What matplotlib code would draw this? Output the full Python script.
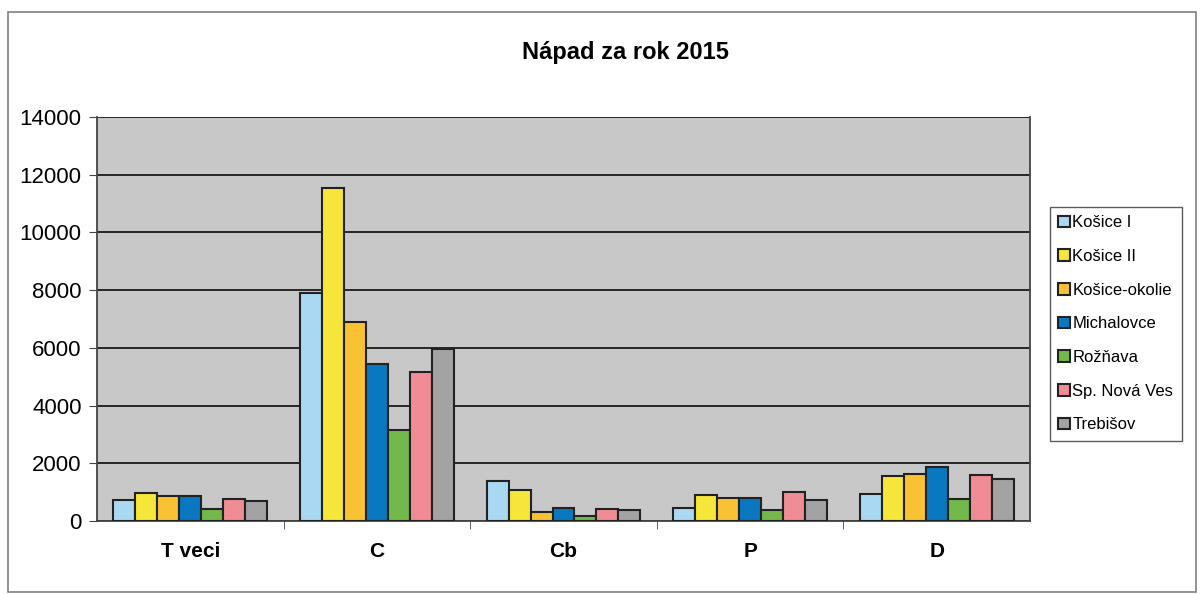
import matplotlib
matplotlib.use('Agg')
import matplotlib.pyplot as plt
import numpy as np
from matplotlib.patches import Rectangle

matplotlib.rcParams['font.family'] = ['Liberation Sans', 'DejaVu Sans']

categories = ['T veci', 'C', 'Cb', 'P', 'D']
series = ['Košice I', 'Košice II', 'Košice-okolie', 'Michalovce', 'Rožňava',
          'Sp. Nová Ves', 'Trebišov']
kosice_1 = [740, 7900, 1380, 450, 950]
kosice_2 = [980, 11550, 1080, 900, 1550]
kosice_okolie = [850, 6900, 320, 780, 1640]
michalovce = [870, 5450, 450, 800, 1860]
roznava = [420, 3150, 170, 380, 760]
sp_nova_ves = [750, 5150, 430, 990, 1600]
trebisov = [700, 5950, 390, 720, 1450]
values = [kosice_1, kosice_2, kosice_okolie, michalovce, roznava, sp_nova_ves, trebisov]
colors = ['#a9d9f2', '#f7e63a', '#f8c234', '#0a78c0', '#72b84a', '#f08c94', '#a3a3a3']

fig = plt.figure(figsize=(12.04, 5.95), dpi=100)
# outer chart frame
fig.patches.append(Rectangle((8 / 1204, 3 / 595), 1188 / 1204, 580 / 595, transform=fig.transFigure,
                             fill=False, edgecolor='#808080', linewidth=1.2))

ax = fig.add_axes([97 / 1204, 74 / 595, 933 / 1204, 404 / 595])
ax.set_facecolor('#c8c8c8')

x = np.arange(len(categories))
width = 1 / 8.5
for i, (name, vals, c) in enumerate(zip(series, values, colors)):
    ax.bar(x + (i - 3) * width, vals, width, color=c, edgecolor='#222222', linewidth=1.5,
           label=name, zorder=3)

ax.set_ylim(0, 14000)
ax.set_yticks(range(0, 14001, 2000))
ax.set_xlim(-0.5, 4.5)
ax.set_xticks(x)
ax.set_xticklabels(categories, fontsize=15, fontweight='bold')
ax.set_xticks(np.arange(0.5, 4.5, 1), minor=True)
ax.tick_params(axis='x', which='major', length=0, pad=15)
ax.tick_params(axis='x', which='minor', length=6, color='#444444')
ax.tick_params(axis='y', labelsize=16, length=6, pad=5, color='#444444')
ax.yaxis.grid(True, color='#1a1a1a', linewidth=1.3, zorder=1)
ax.spines['top'].set_visible(False)
for s in ['left', 'right', 'bottom']:
    ax.spines[s].set_color('#444444')
    ax.spines[s].set_linewidth(1.3)

fig.text(625 / 1204, 1 - 52 / 595, 'Nápad za rok 2015', ha='center', va='center',
         fontsize=17, fontweight='bold')

leg = ax.legend(loc='upper left', bbox_to_anchor=(1050 / 933 - 97 / 933, (521 - 207) / 404),
                fontsize=12, frameon=True, fancybox=False, edgecolor='#333333',
                handlelength=0.7, handleheight=0.7, handletextpad=0.15, labelspacing=1.12,
                borderpad=0.5, borderaxespad=0)
leg.get_frame().set_linewidth(1.0)

fig.savefig('out.png', dpi=100, facecolor='white')
